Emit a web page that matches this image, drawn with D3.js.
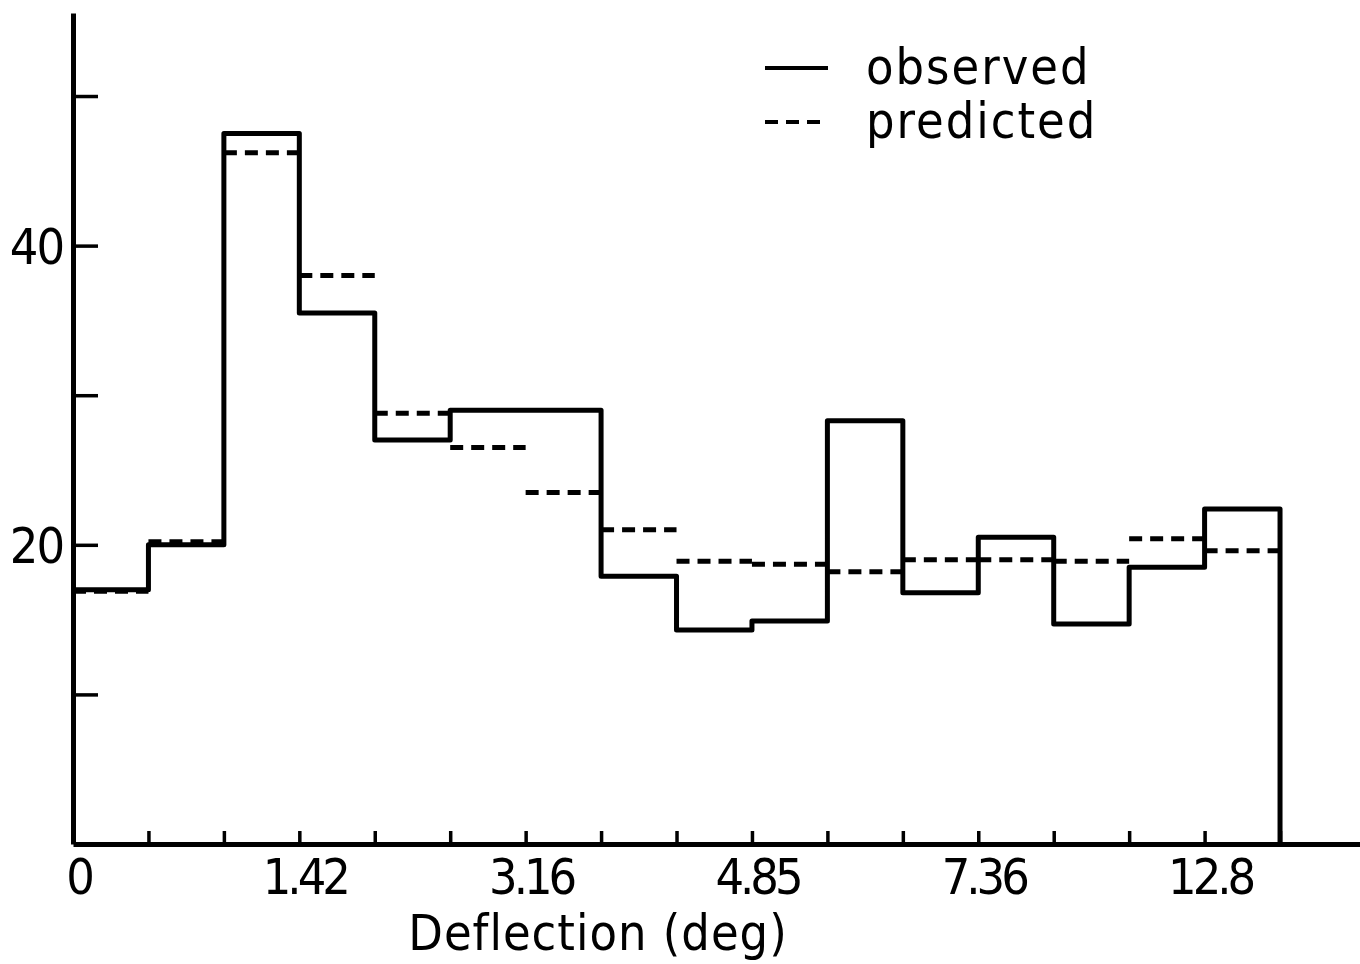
<!DOCTYPE html>
<html>
<head>
<meta charset="utf-8">
<script src="https://cdn.jsdelivr.net/npm/d3@7"></script>
<style>
  html, body { margin: 0; padding: 0; background: #fff; }
  svg { display: block; }
  text { font-family: "DejaVu Sans Condensed", "DejaVu Sans", sans-serif; fill: #000; }
</style>
</head>
<body>
<svg id="chart" width="1360" height="964"></svg>
<script>
// Bin index 0..15 (equal-width bins on the drawn axis)
const bins = d3.range(16);
const observed  = [17.0, 20.0, 47.5, 35.5, 27.0, 29.0, 29.0, 17.9, 14.3, 14.9, 28.3, 16.8, 20.5, 14.7, 18.5, 22.4];
const predicted = [16.9, 20.2, 46.2, 38.0, 28.8, 26.5, 23.5, 21.0, 18.9, 18.7, 18.2, 19.0, 19.0, 18.9, 20.4, 19.6];
const xTickLabels = {0: "0", 3: "1.42", 6: "3.16", 9: "4.85", 12: "7.36", 15: "12.8"};
const yTicks = [10, 20, 30, 40, 50];
const yLabeled = [20, 40];
const xTitle = "Deflection (deg)";
const legendItems = [{name: "observed", dash: null}, {name: "predicted", dash: "13,8"}];

const svg = d3.select("#chart");
const x = d3.scaleLinear().domain([0, 17.06]).range([73, 1360]);
const y = d3.scaleLinear().domain([0, 55.55]).range([844, 13]);

// Y axis
const yAxis = d3.axisLeft(y)
  .tickValues(yTicks)
  .tickSize(-25)
  .tickSizeOuter(0)
  .tickPadding(10)
  .tickFormat(d => yLabeled.includes(d) ? d : "");
const gy = svg.append("g").attr("transform", `translate(${x(0)},0)`).call(yAxis);
gy.select(".domain").attr("stroke", "#000").attr("stroke-width", 5);
gy.selectAll(".tick line").attr("stroke", "#000").attr("stroke-width", 3.5);
gy.selectAll(".tick text").attr("font-size", 50).attr("dy", "0.36em")
  .attr("font-family", '"DejaVu Sans Condensed", "DejaVu Sans", sans-serif')
  .attr("letter-spacing", -2);

// X axis
const xAxis = d3.axisBottom(x)
  .tickValues(d3.range(17))
  .tickSize(-13)
  .tickSizeOuter(0)
  .tickPadding(14)
  .tickFormat(d => xTickLabels[d] !== undefined ? xTickLabels[d] : "");
const gx = svg.append("g").attr("transform", `translate(0,${y(0)})`).call(xAxis);
gx.select(".domain").attr("stroke", "#000").attr("stroke-width", 5);
gx.selectAll(".tick line").attr("stroke", "#000").attr("stroke-width", 3.5);
gx.selectAll(".tick text").attr("font-size", 50).attr("dx", 5)
  .attr("font-family", '"DejaVu Sans Condensed", "DejaVu Sans", sans-serif')
  .attr("letter-spacing", -4);

// Observed histogram (step outline)
const obsPts = bins.map(i => [i, observed[i]]);
obsPts.push([16, observed[15]]);
obsPts.push([16, 0]);
const stepLine = d3.line()
  .x(d => x(d[0]))
  .y(d => y(d[1]))
  .curve(d3.curveStepAfter);
svg.append("path")
  .datum(obsPts)
  .attr("d", stepLine)
  .attr("fill", "none")
  .attr("stroke", "#000")
  .attr("stroke-width", 5)
  .attr("stroke-linejoin", "round");

// Predicted (dashed level per bin)
svg.append("g").selectAll("line")
  .data(bins)
  .join("line")
  .attr("x1", i => x(i))
  .attr("x2", i => x(i + 1))
  .attr("y1", i => y(predicted[i]))
  .attr("y2", i => y(predicted[i]))
  .attr("stroke", "#000")
  .attr("stroke-width", 5)
  .attr("stroke-dasharray", "13,8");

// X title
svg.append("text")
  .attr("x", 598).attr("y", 950)
  .attr("text-anchor", "middle")
  .attr("font-size", 50)
  .attr("letter-spacing", 1)
  .text(xTitle);

// Legend
const lg = svg.append("g").attr("transform", "translate(765,68)");
legendItems.forEach((d, i) => {
  lg.append("line")
    .attr("x1", 0).attr("x2", 63)
    .attr("y1", i * 54).attr("y2", i * 54)
    .attr("stroke", "#000").attr("stroke-width", 4)
    .attr("stroke-dasharray", d.dash);
  lg.append("text")
    .attr("x", 101).attr("y", i * 54 + 16)
    .attr("font-size", 50)
    .attr("letter-spacing", 2)
    .text(d.name);
});
</script>
</body>
</html>
